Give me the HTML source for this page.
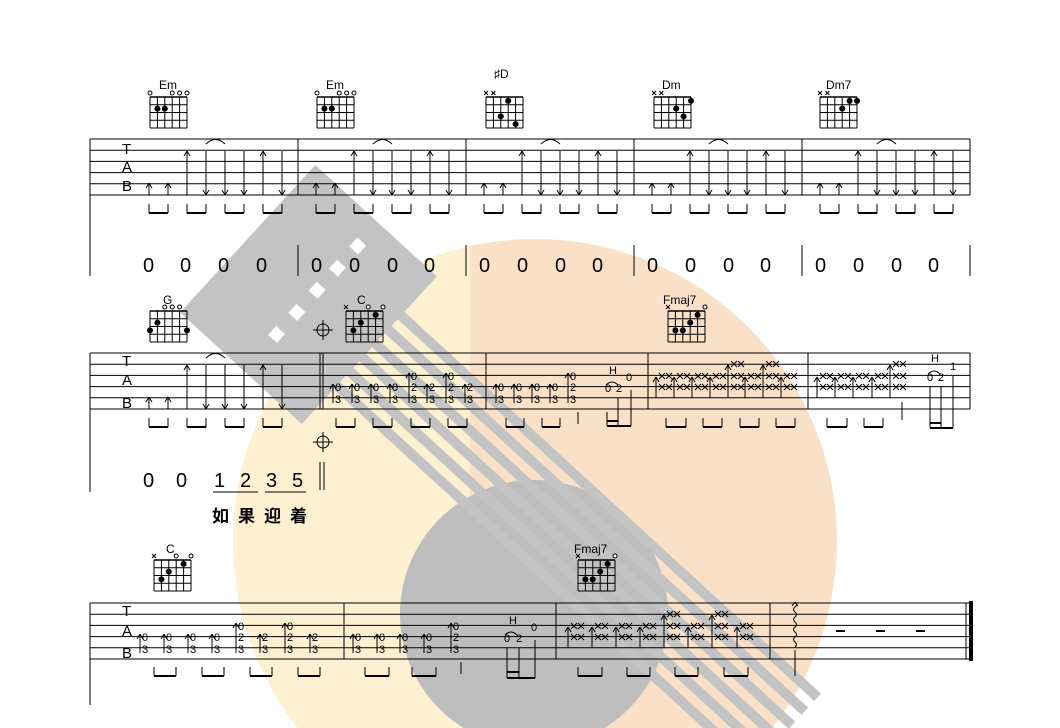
<!DOCTYPE html>
<html><head><meta charset="utf-8"><style>
html,body{margin:0;padding:0;background:#fff;width:1060px;height:728px;overflow:hidden}
svg{display:block}
text{font-family:"Liberation Sans",sans-serif;fill:#000}
.n{font-size:11px}
.c{font-size:12px}
.big{font-size:20px}
.cj{font-family:"Liberation Sans","Noto Sans CJK SC",sans-serif;font-size:17px;font-weight:bold}
</style></head><body>
<svg id="s" width="1060" height="728" viewBox="0 0 1060 728" xmlns="http://www.w3.org/2000/svg">
<defs>
<clipPath id="cp"><rect x="0" y="0" width="1060" height="728"/></clipPath>
<clipPath id="circ"><circle cx="535" cy="541" r="302"/></clipPath>
</defs>
<g id="wm" clip-path="url(#cp)">
<circle cx="535" cy="541" r="302" fill="#fbe0c8"/>
<polygon points="180,180 470,180 470,760 180,760" fill="#fdf1d2" clip-path="url(#circ)"/>
<circle cx="534" cy="614" r="134" fill="#bdbdbd"/>
<g transform="translate(318 310) rotate(42.5)" fill="#c3c3c3">
<rect x="-100" y="-105" width="165" height="200"/>
<g fill="#fff">
<rect x="-20" y="-80" width="12" height="12"/>
<rect x="-20" y="-50" width="12" height="12"/>
<rect x="-20" y="-20" width="12" height="12"/>
<rect x="-20" y="10" width="12" height="12"/>
<rect x="-20" y="40" width="12" height="12"/>
</g>
<rect x="60" y="-57" width="570" height="10"/>
<rect x="60" y="-38" width="570" height="10"/>
<rect x="60" y="-19" width="570" height="10"/>
<rect x="60" y="0" width="570" height="10"/>
<rect x="60" y="19" width="570" height="10"/>
<rect x="60" y="38" width="570" height="10"/>
</g>
</g>
<g id="ink" stroke="#000" fill="none" stroke-width="1"></g>

<text class="c" x="159" y="89">Em</text>
<text class="c" x="326" y="89">Em</text>
<text class="c" x="494" y="78">♯D</text>
<text class="c" x="662" y="89">Dm</text>
<text class="c" x="826" y="89">Dm7</text>
<text class="c" x="163" y="304">G</text>
<text class="c" x="357" y="304">C</text>
<text class="c" x="663" y="304">Fmaj7</text>
<text class="c" x="166" y="553">C</text>
<text class="c" x="574" y="553">Fmaj7</text>

<g>
<text x="122" y="154" font-family="Liberation Serif" font-size="15">T</text><text x="122" y="172" font-family="Liberation Serif" font-size="15">A</text><text x="122" y="191" font-family="Liberation Serif" font-size="15">B</text>
<text x="122" y="366" font-family="Liberation Serif" font-size="15">T</text><text x="122" y="385" font-family="Liberation Serif" font-size="15">A</text><text x="122" y="408" font-family="Liberation Serif" font-size="15">B</text>
<text x="122" y="616" font-family="Liberation Serif" font-size="15">T</text><text x="122" y="636" font-family="Liberation Serif" font-size="15">A</text><text x="122" y="658" font-family="Liberation Serif" font-size="15">B</text>
</g>

<g>
<text class="big" x="143" y="272">0</text><text class="big" x="180" y="272">0</text><text class="big" x="218" y="272">0</text><text class="big" x="256" y="272">0</text>
<text class="big" x="311" y="272">0</text><text class="big" x="349" y="272">0</text><text class="big" x="387" y="272">0</text><text class="big" x="424" y="272">0</text>
<text class="big" x="479" y="272">0</text><text class="big" x="517" y="272">0</text><text class="big" x="555" y="272">0</text><text class="big" x="592" y="272">0</text>
<text class="big" x="647" y="272">0</text><text class="big" x="685" y="272">0</text><text class="big" x="723" y="272">0</text><text class="big" x="760" y="272">0</text>
<text class="big" x="815" y="272">0</text><text class="big" x="853" y="272">0</text><text class="big" x="891" y="272">0</text><text class="big" x="928" y="272">0</text>
<text class="big" x="143" y="487">0</text><text class="big" x="176" y="487">0</text><text class="big" x="214" y="487">1</text><text class="big" x="240" y="487">2</text><text class="big" x="266" y="487">3</text><text class="big" x="292" y="487">5</text>
</g>
<text class="cj" x="212" y="522">如</text><text class="cj" x="238" y="522">果</text><text class="cj" x="264" y="522">迎</text><text class="cj" x="290" y="522">着</text>

<g id="nums" class="n"></g>
<text class="n" x="609" y="374">H</text><text class="n" x="605" y="392">0</text><text class="n" x="616" y="392">2</text><text class="n" x="626" y="381">0</text>
<text class="n" x="931" y="362">H</text><text class="n" x="927" y="381">0</text><text class="n" x="938" y="381">2</text><text class="n" x="950" y="370">1</text>
<text class="n" x="509" y="624">H</text><text class="n" x="504" y="642">0</text><text class="n" x="516" y="642">2</text><text class="n" x="531" y="631">0</text>

<script>
(function(){
var ink=document.getElementById('ink'),NS='http://www.w3.org/2000/svg';
function el(t,a,p){var e=document.createElementNS(NS,t);for(var k in a)e.setAttribute(k,a[k]);(p||ink).appendChild(e);return e;}
function L(x1,y1,x2,y2,w){el('line',{x1:x1,y1:y1,x2:x2,y2:y2,'stroke-width':w||1});}
function staff(y0,xs,xe){for(var i=0;i<6;i++){L(xs,y0+i*11.2,xe,y0+i*11.2);} }
staff(139,90,970);staff(353,90,970);staff(603,90,970);
L(90,139,90,276);[298,466,634,802,970].forEach(function(x){L(x,139,x,195);L(x,245,x,276);});
L(90,353,90,492);L(320,353,320,409);L(323,353,323,409);[486,648,808,970].forEach(function(x){L(x,353,x,409);});
L(320,462,320,490);L(324,462,324,490);
L(90,603,90,705);[344,556,770].forEach(function(x){L(x,603,x,659);});L(966,603,966,659);el('rect',{x:969,y:601,width:4,height:60,fill:'#000',stroke:'none'});
function up(x,y1,y2){L(x,y1,x,y2);L(x-3,y2+5,x,y2);L(x+3,y2+5,x,y2);}
function dn(x,y1,y2){L(x,y1,x,y2);L(x-3,y2-5,x,y2);L(x+3,y2-5,x,y2);}
function beam(a,b,y1,y2){L(a,y1,a,y2);L(b,y1,b,y2);L(a,y2,b,y2,2);}
function tie(a,b,y){el('path',{d:'M'+a+' '+(y+4)+' Q'+((a+b)/2)+' '+(y-5)+' '+b+' '+(y+4)});}
function strum(x0,top,bot,by){
 var xs=[0,19,38,57,76,95,114,133].map(function(d){return x0+d;});
 up(xs[0],bot,bot-12);up(xs[1],bot,bot-12);up(xs[2],bot,top+12);
 dn(xs[3],top+12,bot);dn(xs[4],top+12,bot);dn(xs[5],top+12,bot);
 up(xs[6],bot,top+12);dn(xs[7],top+12,bot);tie(xs[3],xs[4],top+1);
 for(var i=0;i<8;i+=2)beam(xs[i],xs[i+1],by,by+9);
}
strum(149,139,195,204);strum(316,139,195,204);strum(484,139,195,204);strum(652,139,195,204);strum(820,139,195,204);
strum(149,353,409,418);
var S=7.4;
function grid(x,y,dots,marks){
 for(var i=0;i<6;i++)L(x+i*S,y,x+i*S,y+31);
 for(var j=0;j<5;j++)L(x,y+j*7.75,x+5*S,y+j*7.75,j==0?1.5:1);
 dots.forEach(function(d){el('circle',{cx:x+d[0]*S,cy:y+d[1]*7.75-3.9,r:3,fill:'#000',stroke:'none'});});
 (marks||'').split('').forEach(function(m,i){var cx=x+i*S,cy=y-4;if(m=='o')el('circle',{cx:cx,cy:cy,r:2,fill:'#fff'});if(m=='x'){L(cx-2,cy-2,cx+2,cy+2);L(cx-2,cy+2,cx+2,cy-2);}});
}
grid(150,97,[[1,2],[2,2]],'o..ooo');
grid(317,97,[[1,2],[2,2]],'o..ooo');
grid(486,97,[[3,1],[2,3],[4,4]],'xx....');
grid(654,97,[[5,1],[3,2],[4,3]],'xx....');
grid(820,97,[[4,1],[5,1],[3,2]],'xx....');
grid(150,311,[[1,2],[0,3],[5,3]],'..ooo.');
grid(346,311,[[4,1],[2,2],[1,3]],'x..o.o');
grid(668,311,[[4,1],[3,2],[2,3],[1,3]],'x....o');
grid(154,560,[[4,1],[2,2],[1,3]],'x..o.o');
grid(578,560,[[4,1],[3,2],[2,3],[1,3]],'x....o');
function coda(x,y){el('circle',{cx:x,cy:y,r:6});L(x-10,y,x+10,y);L(x,y-10,x,y+10);}
coda(323,330);coda(323,442);
L(213,492,258,492);L(265,492,306,492);
var nums=document.getElementById('nums');
function T(x,y,s){var t=el('text',{x:x,y:y,'class':'n',fill:'#000',stroke:'none'},nums);t.textContent=s;}
function note(x,s0,kind){
 var y=s0;
 if(kind==1){up(x,y+50,y+31);T(x+2,y+38,'0');T(x+2,y+50,'3');}
 if(kind==2){up(x,y+50,y+20);T(x+2,y+27,'0');T(x+2,y+38,'2');T(x+2,y+50,'3');}
 if(kind==3){up(x,y+50,y+31);T(x+2,y+38,'2');T(x+2,y+50,'3');}
}
[[333,1],[352,1],[371,1],[390,1],[409,2],[427,3],[446,2],[465,3]].forEach(function(a){note(a[0],353,a[1]);});
beam(336,355,418,427);beam(373,392,418,427);beam(411,430,418,427);beam(448,467,418,427);
[[496,1],[514,1],[532,1],[550,1],[568,2]].forEach(function(a){note(a[0],353,a[1]);});
beam(506,524,418,427);beam(542,560,418,427);L(578,412,578,424);
L(607,412,607,426);L(618,398,618,426);L(631,390,631,426);L(607,421,618,421,2);L(607,426,631,426,2);
el('path',{d:'M606 385 Q612 379 618 385'});
el('path',{d:'M928 374 Q934 368 940 374'});
function X(x,y){L(x-3,y-3,x+3,y+3);L(x-3,y+3,x+3,y-3);}
function xn(x,s0,tall){up(x,s0+45,tall?s0+12:s0+24);X(x+6,s0+23);X(x+6,s0+34);if(tall){X(x+6,s0+11);}X(x+13,s0+23);X(x+13,s0+34);if(tall)X(x+13,s0+11);}
[[656,0],[674,0],[692,0],[710,0],[728,1],[745,0],[763,1],[781,0]].forEach(function(a){xn(a[0],353,a[1]);});
beam(666,686,418,427);beam(703,722,418,427);beam(740,759,418,427);beam(776,795,418,427);
[[817,0],[835,0],[853,0],[872,0],[890,1]].forEach(function(a){xn(a[0],353,a[1]);});
beam(827,847,418,427);beam(864,883,418,427);L(902,402,902,420);
L(930,386,930,428);L(941,386,941,428);L(953,376,953,428);L(930,423,941,423,2);L(930,428,953,428,2);
[[140,1],[164,1],[188,1],[212,1],[236,2],[260,3],[285,2],[310,3]].forEach(function(a){note(a[0],603,a[1]);});
beam(154,176,667,676);beam(202,224,667,676);beam(250,272,667,676);beam(298,320,667,676);
[[353,1],[377,1],[400,1],[424,1],[451,2]].forEach(function(a){note(a[0],603,a[1]);});
beam(365,389,667,676);beam(412,436,667,676);L(461,662,461,674);
L(507,648,507,678);L(519,648,519,678);L(535,640,535,678);L(507,672,519,672,2);L(507,678,535,678,2);
el('path',{d:'M505 635 Q511 629 517 635'});
[[568,0],[592,0],[616,0],[640,0],[664,1],[688,0],[712,1],[737,0]].forEach(function(a){xn(a[0],603,a[1]);});
beam(578,602,667,676);beam(627,650,667,676);beam(675,698,667,676);beam(724,748,667,676);
var d='M795 602';for(var i=0;i<9;i++){d+=' q'+(i%2?-3:3)+' 2.5 0 5';}el('path',{d:d});
L(792,606,795,602);L(798,606,795,602);
L(795,650,795,676);
[836,876,916].forEach(function(x){L(x,631,x+9,631,2);});
})();
</script>
</svg>
</body></html>
